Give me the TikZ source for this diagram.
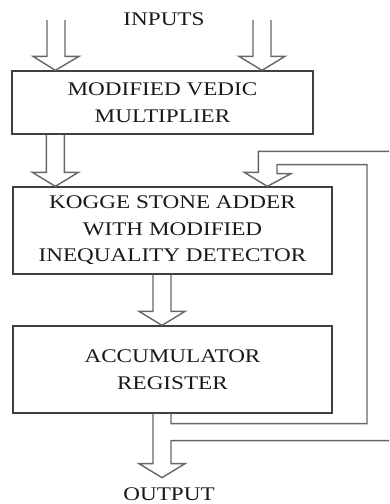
\documentclass[tikz,border=0pt]{standalone}
\usepackage{fontspec}
\setmainfont{Liberation Serif}[FakeStretch=1.2]
\usetikzlibrary{calc,positioning}

% hollow block arrow: #1 top of shaft, #2 tip
\newcommand{\hollow}[2]{%
\draw[arr] let \p1=#1, \p2=#2 in
	(\x1-9pt,\y1) -- (\x1-9pt,\y2+14pt) -- (\x1-23pt,\y2+14pt) -- (\x2,\y2)
	-- (\x1+23pt,\y2+14pt) -- (\x1+9pt,\y2+14pt) -- (\x1+9pt,\y1);}

\begin{document}
\begin{tikzpicture}[x=1pt,y=-1pt]
\tikzset{
	block/.style = {draw=black!75, line width=1.3pt, minimum width=319pt, minimum height=87pt, inner sep=0, align=center, text=black!90, font=\fontsize{19.3}{26.5}\selectfont},
	label/.style = {text=black!90, inner sep=0, font=\fontsize{19.3}{26.5}\selectfont},
	arr/.style = {draw=black!60, line width=1.4pt, line join=miter},
}
\clip (0,0) rectangle (389,504);

\node(mult)[block, minimum width=301pt, minimum height=63pt] at (162.5,102.5) {MODIFIED VEDIC\\MULTIPLIER};
\node(ksa)[block] at (172.5,230.5) {KOGGE STONE ADDER\\WITH MODIFIED\\INEQUALITY DETECTOR};
\node(acc)[block] at (172.5,369.5) {ACCUMULATOR\\REGISTER};
\node(inp)[label] at (164,19.5) {INPUTS};
\node(out)[label] at (169,494) {OUTPUT};

\coordinate (fb) at ($(ksa.north west)+(255,0)$);
\coordinate (ot) at ($(acc.south)+(-10.5,64)$);

\hollow{(56,20)}{($(mult.north west)+(44,0)$)}
\hollow{(262,20)}{($(mult.north)+(99.5,0)$)}
\hollow{($(mult.south west)+(44,0)$)}{($(ksa.north west)+(43,0)$)}
\hollow{($(ksa.south)+(-10.5,0)$)}{($(acc.north)+(-10.5,0)$)}

% feedback loop
\draw[arr] ($(acc.south)+(-1.5,0)$) -- ++(0,10) -- ++(196,0) -- ++(0,-259) -- ++(-90,0)
	-- ++(0,9) -- ++(14,0) -- (fb) -- ++(-23,-14) -- ++(14,0) -- ++(0,-21) -- ++(141,0);
\draw[arr] ($(acc.south)+(-19.5,0)$) -- ++(0,50) -- ++(-14,0) -- (ot) -- ++(23,-14)
	-- ++(-14,0) -- ++(0,-23) -- ++(229,0);

\end{tikzpicture}
\end{document}
